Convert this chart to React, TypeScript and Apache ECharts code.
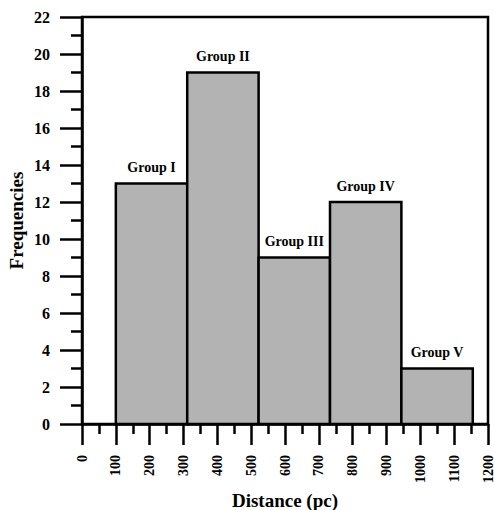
import React, { useEffect, useRef } from "react";
import * as echarts from "echarts";

const binStarts = [100, 311, 522, 733, 944];
const binEnds = [311, 522, 733, 944, 1155];
const frequencies = [13, 19, 9, 12, 3];
const groupLabels = ["Group I", "Group II", "Group III", "Group IV", "Group V"];

const FONT = "'Liberation Serif', 'Times New Roman', serif";

export default function App() {
  const ref = useRef<HTMLDivElement>(null);
  useEffect(() => {
    document.body.style.margin = "0";
    const chart = echarts.init(ref.current!, undefined, { renderer: "svg" });
    const data = binStarts.map((s, i) => [s, binEnds[i], frequencies[i]]);
    chart.setOption({
      animation: false,
      backgroundColor: "#fff",
      grid: {
        left: 82,
        right: 6,
        top: 17,
        bottom: 86,
        containLabel: false,
        outerBoundsMode: "none",
        show: true,
        borderColor: "#000",
        borderWidth: 2.5,
        backgroundColor: "transparent",
      },
      xAxis: {
        type: "value",
        min: 0,
        max: 1200,
        interval: 100,
        name: "Distance (pc)",
        nameLocation: "middle",
        nameGap: 57,
        nameTextStyle: { fontFamily: FONT, fontWeight: "bold", fontSize: 19, color: "#000" },
        axisLine: { show: true, lineStyle: { color: "#000", width: 2.5 } },
        axisTick: { show: true, inside: false, length: 21, lineStyle: { color: "#000", width: 2.5 } },
        minorTick: { show: true, splitNumber: 2, length: 10, lineStyle: { color: "#000", width: 2.5 } },
        splitLine: { show: false },
        axisLabel: {
          rotate: 90,
          margin: 31,
          formatter: (v: number) => String(v),
          fontFamily: FONT,
          fontWeight: "bold",
          fontSize: 14,
          color: "#000",
        },
      },
      yAxis: {
        type: "value",
        min: 0,
        max: 22,
        interval: 2,
        name: "Frequencies",
        nameLocation: "middle",
        nameGap: 56,
        nameMoveOverlap: false,
        nameRotate: 90,
        nameTextStyle: { fontFamily: FONT, fontWeight: "bold", fontSize: 19, color: "#000" },
        axisLine: { show: true, lineStyle: { color: "#000", width: 2.5 } },
        axisTick: { show: true, inside: false, length: 22, lineStyle: { color: "#000", width: 2.5 } },
        minorTick: { show: true, splitNumber: 2, length: 11, lineStyle: { color: "#000", width: 2.5 } },
        splitLine: { show: false },
        axisLabel: {
          margin: 32,
          formatter: (v: number) => String(v),
          fontFamily: FONT,
          fontWeight: "bold",
          fontSize: 16,
          color: "#000",
        },
      },
      series: [
        {
          type: "custom",
          data,
          encode: { x: [0, 1], y: 2 },
          renderItem: (params: any, api: any) => {
            const p0 = api.coord([api.value(0), 0]);
            const p1 = api.coord([api.value(1), api.value(2)]);
            return {
              type: "group",
              children: [
                {
                  type: "rect",
                  shape: { x: p0[0], y: p1[1], width: p1[0] - p0[0], height: p0[1] - p1[1] },
                  style: { fill: "#b3b3b3", stroke: "#000", lineWidth: 2.5 },
                },
                {
                  type: "text",
                  style: {
                    text: groupLabels[params.dataIndex],
                    x: (p0[0] + p1[0]) / 2,
                    y: p1[1] - 9,
                    align: "center",
                    verticalAlign: "bottom",
                    font: `bold 14px ${FONT}`,
                    fill: "#000",
                  },
                },
              ],
            };
          },
        },
      ],
    });
    return () => chart.dispose();
  }, []);
  return <div ref={ref} style={{ position: "absolute", left: 0, top: 0, width: 494, height: 510 }} />;
}
